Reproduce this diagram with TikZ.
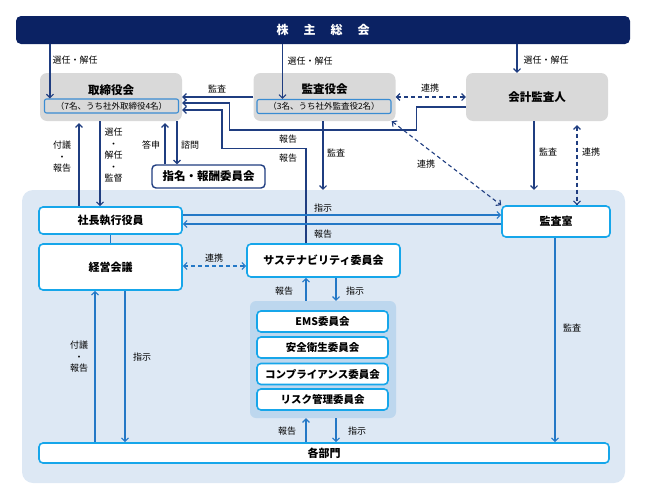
\documentclass[tikz,border=0pt]{standalone}
\usepackage{fontspec}
\setmainfont{Noto Sans CJK JP}
\usepackage{xcolor}
\usepackage{tikz}
\usetikzlibrary{arrows.meta, calc}

\definecolor{gmnavy}{HTML}{0B2263}
\definecolor{linenavy}{HTML}{1F3D80}
\definecolor{boxgray}{HTML}{D9D9D9}
\definecolor{execbg}{HTML}{DDE8F4}
\definecolor{groupbg}{HTML}{BDD7EE}
\definecolor{boxline}{HTML}{16A6EA}
\definecolor{nameline}{HTML}{3A8CD2}
\definecolor{execline}{HTML}{2478C6}

\begin{document}
\begin{tikzpicture}[
    x=1pt, y=-1pt,
    >={Straight Barb[length=3.5pt,width=7pt]},
    meeting/.style={rectangle, fill=gmnavy, rounded corners=5pt, text=white, font=\fontsize{12}{14}\selectfont\bfseries, minimum width=614pt, minimum height=28pt},
    organ/.style={rectangle, fill=boxgray, rounded corners=7pt, minimum width=142pt, minimum height=48pt, font=\fontsize{11.5}{13}\selectfont\bfseries},
    organtitle/.style={inner sep=0pt, font=\fontsize{11.5}{13}\selectfont\bfseries},
    members/.style={rectangle, draw=nameline, line width=1.1pt, rounded corners=2pt, minimum width=134pt, minimum height=14pt, inner sep=0pt, font=\fontsize{8.5}{10}\selectfont},
    panel/.style={rectangle, draw=linenavy, line width=1.4pt, fill=white, rounded corners=4pt, minimum width=113pt, minimum height=23pt, font=\fontsize{11.5}{13}\selectfont\bfseries},
    unit/.style={rectangle, draw=boxline, line width=1.6pt, fill=white, rounded corners=4pt, font=\fontsize{11}{13}\selectfont\bfseries},
    committee/.style={unit, minimum width=131pt, minimum height=21pt, font=\fontsize{10.5}{12}\selectfont\bfseries},
    lbl/.style={inner sep=0pt, font=\fontsize{9}{11.5}\selectfont, align=center},
    navyarrow/.style={draw=linenavy, line width=1.1pt, ->},
    navyline/.style={draw=linenavy, line width=1.1pt},
    navydash/.style={draw=linenavy, line width=1.1pt, dashed, dash pattern=on 4pt off 3pt, <->},
    bluearrow/.style={draw=execline, line width=1.1pt, ->},
    blueline/.style={draw=execline, line width=1.1pt},
    bluedash/.style={draw=execline, line width=1.1pt, dash pattern=on 4pt off 3pt, <->}
]
    \useasboundingbox (0,0) rectangle (645,498);

    % Background of the executive side
    \node (exec) [rectangle, fill=execbg, rounded corners=11pt, minimum width=603pt, minimum height=293pt] at (323.5,336.5) {};
    \node (group) [rectangle, fill=groupbg, rounded corners=6pt, minimum width=146pt, minimum height=117pt] at (323,359.5) {};

    % Nodes
    \node (gm) [meeting] at (323,30) {株\hspace{15pt}主\hspace{15pt}総\hspace{15pt}会};

    \node (board) [organ] at (111,97) {};
    \node (boardt) [organtitle] at (111,90) {取締役会};
    \node (boardn) [members] at (111.5,106) {（7名、うち社外取締役4名）};

    \node (audit) [organ] at (324.5,97) {};
    \node (auditt) [organtitle] at (324.5,89) {監査役会};
    \node (auditn) [members] at (324,106.5) {（3名、うち社外監査役2名）};

    \node (acct) [organ] at (537,97) {会計監査人};

    \node (nom) [panel] at (208.5,176.5) {指名・報酬委員会};

    \node (pres) [unit, minimum width=143pt, minimum height=27pt] at (110.5,220.5) {社長執行役員};
    \node (mgmt) [unit, minimum width=143pt, minimum height=46pt] at (110.5,267) {経営会議};
    \node (sust) [unit, minimum width=153pt, minimum height=33pt] at (323.5,260.5) {サステナビリティ委員会};
    \node (office) [unit, minimum width=108pt, minimum height=31pt] at (556,221.5) {監査室};

    \node (ems) [committee] at (322.5,321.5) {EMS委員会};
    \node (safety) [committee] at (322.5,347.5) {安全衛生委員会};
    \node (comply) [committee] at (322.5,374) {コンプライアンス委員会};
    \node (risk) [committee] at (322.5,399.5) {リスク管理委員会};

    \node (dept) [unit, minimum width=570pt, minimum height=20pt] at (324,453) {各部門};

    % Arrows from the shareholders meeting
    \draw [navyarrow] ([xshift=6pt]boardn.north west |- gm.south) -- ([xshift=6pt]boardn.north west);
    \draw [navyarrow] ([xshift=26pt]auditn.north west |- gm.south) -- ([xshift=26pt]auditn.north west);
    \draw [navyarrow] ([xshift=-20pt]acct.north |- gm.south) -- ([xshift=-20pt]acct.north);

    % Arrows between the upper organs
    \draw [navyarrow] (audit.west) -- (board.east);
    \draw [navyarrow] ([yshift=-10pt]acct.west) -- ++(-49,0) -- ++(0,23) -- ++(-187,0) |- ([yshift=-6pt]board.east);
    \draw [navyarrow] ([xshift=-17.5pt]sust.north) -- ++(0,-95) -- ++(-84,0) |- ([yshift=-13pt]board.east);
    \draw [navydash] (audit.east) -- (acct.west);
    \draw [navydash] ([xshift=-4pt]audit.south east) -- (office.north west);
    \draw [navyarrow] ([xshift=-1.5pt]audit.south) -- ([xshift=-1.5pt]audit.south |- exec.north);
    \draw [navyarrow] ([xshift=-3pt]acct.south) -- ([xshift=-3pt]acct.south |- exec.north);
    \draw [navydash, shorten <=4pt] ([xshift=40pt]acct.south) -- ([xshift=40pt]acct.south |- office.north);

    % Board and executives
    \draw [navyarrow] ([xshift=-11pt]board.south) -- ([xshift=-11pt]board.south |- pres.north);
    \draw [navyarrow, shorten >=2pt] ([xshift=-32pt]board.south |- pres.north) -- ([xshift=-32pt]board.south);
    \draw [navyarrow, shorten >=2pt] ([xshift=-43.5pt]nom.north) -- ([xshift=-43.5pt]nom.north |- board.south);
    \draw [navyarrow] ([xshift=-31.5pt]nom.north |- board.south) -- ([xshift=-31.5pt]nom.north);

    % Executive side
    \draw [bluearrow] ([yshift=5.5pt]pres.east) -- ([yshift=5.5pt]pres.east -| office.west);
    \draw [bluearrow] ([yshift=-3.5pt]pres.east -| office.west) -- ([yshift=-3.5pt]pres.east);
    \draw [blueline] (pres.south) -- (mgmt.north);
    \draw [bluedash] ([yshift=1pt]mgmt.east) -- ([yshift=1pt]mgmt.east -| sust.west);
    \draw [bluearrow] ([xshift=14.5pt]mgmt.south) -- ([xshift=14.5pt]mgmt.south |- dept.north);
    \draw [bluearrow] ([xshift=-15.5pt]mgmt.south |- dept.north) -- ([xshift=-15.5pt]mgmt.south);
    \draw [bluearrow] ([xshift=-17pt]group.north) -- ([xshift=-17pt]group.north |- sust.south);
    \draw [bluearrow] ([xshift=13pt]group.north |- sust.south) -- ([xshift=13pt]group.north);
    \draw [bluearrow] ([xshift=-17pt]group.south |- dept.north) -- ([xshift=-17pt]group.south);
    \draw [bluearrow] ([xshift=13pt]group.south) -- ([xshift=13pt]group.south |- dept.north);
    \draw [bluearrow] ([xshift=-1pt]office.south) -- ([xshift=-1pt]office.south |- dept.north);

    % Labels
    \node (l-sel1) [lbl] at (75,60) {選任・解任};
    \node (l-sel2) [lbl] at (310,61) {選任・解任};
    \node (l-sel3) [lbl] at (546,60) {選任・解任};
    \node (l-aud1) [lbl] at (217,89) {監査};
    \node (l-coop1) [lbl] at (430,88) {連携};
    \node (l-rep1) [lbl] at (288,139) {報告};
    \node (l-rep2) [lbl] at (288,158) {報告};
    \node (l-aud2) [lbl] at (336,153) {監査};
    \node (l-coop2) [lbl] at (426,164) {連携};
    \node (l-aud3) [lbl] at (548,152) {監査};
    \node (l-coop3) [lbl] at (591,152) {連携};
    \node (l-sub1) [lbl] at (62,157) {付議\\・\\報告};
    \node (l-sup) [lbl] at (113.5,155.5) {選任\\・\\解任\\・\\監督};
    \node (l-ans) [lbl] at (151,145) {答申};
    \node (l-cons) [lbl] at (190,145) {諮問};
    \node (l-ins1) [lbl] at (323,208) {指示};
    \node (l-rep3) [lbl] at (323,234) {報告};
    \node (l-coop4) [lbl] at (214,258) {連携};
    \node (l-sub2) [lbl] at (79,357) {付議\\・\\報告};
    \node (l-ins2) [lbl] at (142,357) {指示};
    \node (l-rep4) [lbl] at (284,291) {報告};
    \node (l-ins3) [lbl] at (355,291) {指示};
    \node (l-rep5) [lbl] at (287,431) {報告};
    \node (l-ins4) [lbl] at (357,431) {指示};
    \node (l-aud4) [lbl] at (572,328) {監査};

\end{tikzpicture}
\end{document}
